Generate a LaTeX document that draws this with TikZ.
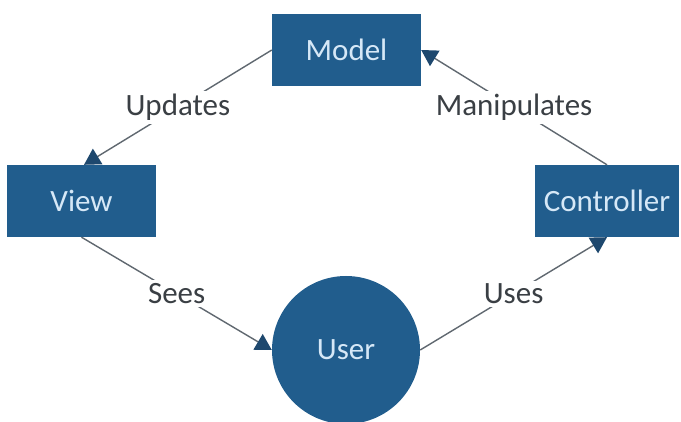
\documentclass[tikz,border=0pt]{standalone}
\usepackage{fontspec}
\setmainfont{Carlito}
\usetikzlibrary{arrows.meta}

\definecolor{boxblue}{RGB}{33,93,141}
\definecolor{boxtext}{RGB}{214,232,247}
\definecolor{labeltext}{RGB}{58,63,68}
\definecolor{linegray}{RGB}{96,104,112}
\definecolor{tipnavy}{RGB}{30,72,110}

\tikzset{
  block/.style={rectangle, fill=boxblue, text=boxtext, inner sep=0pt,
    minimum height=72pt, font=\fontsize{31}{37}\selectfont},
  actor/.style={circle, fill=boxblue, text=boxtext, inner sep=0pt,
    minimum size=148pt, font=\fontsize{31}{37}\selectfont},
  conn/.style={draw=linegray, line width=1.4pt,
    -{Triangle[length=16pt, width=18pt, fill=tipnavy, color=tipnavy]}},
  lbl/.style={fill=white, text=labeltext, inner sep=3pt,
    font=\fontsize{31}{37}\selectfont}
}

\begin{document}
\begin{tikzpicture}[x=1pt, y=-1pt]
  \useasboundingbox[fill=white] (0,0) rectangle (681,422);
  \clip (0,0) rectangle (681,422);

  % the four parts of the cycle
  \node[block, minimum width=149pt] (model) at (346.5,50) {Model};
  \node[block, minimum width=149pt] (view) at (81.5,201) {View};
  \node[block, minimum width=144pt] (controller) at (607,201) {Controller};
  \node[actor] (user) at (346,350) {User};

  % connectors with their labels
  \draw[conn] (model.west) -- node[lbl] {Updates} ([xshift=2.5pt]view.north);
  \draw[conn] (view.south) -- node[lbl] {Sees} (user.west);
  \draw[conn] (user.east) -- node[lbl] {Uses} (controller.south);
  \draw[conn] (controller.north) -- node[lbl] {Manipulates} (model.east);
\end{tikzpicture}
\end{document}
